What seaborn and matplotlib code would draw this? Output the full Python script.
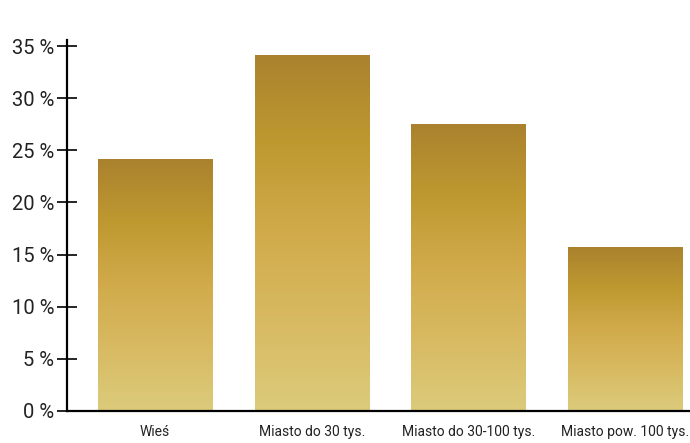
import matplotlib
matplotlib.use("Agg")
import matplotlib.pyplot as plt
from matplotlib.colors import LinearSegmentedColormap
import seaborn as sns
import numpy as np
import pandas as pd

categories = ["Wieś", "Miasto do 30 tys.", "Miasto do 30-100 tys.", "Miasto pow. 100 tys."]
values = [24.1, 34.1, 27.5, 15.7]
yticks = [0, 5, 10, 15, 20, 25, 30, 35]
ytick_labels = ["0 %", "5 %", "10 %", "15 %", "20 %", "25 %", "30 %", "35 %"]

sns.set_theme(style="white")
plt.rcParams['font.family'] = ['Roboto', 'DejaVu Sans']

df = pd.DataFrame({"cat": categories, "val": values})

fig = plt.figure(figsize=(6.9, 4.43), dpi=100)
ax = fig.add_axes([67/690, 1 - 411/443, 1 - 67/690, (411 - 40)/443])

sns.barplot(data=df, x="cat", y="val", ax=ax, color="#C9A33E", width=0.73,
            saturation=1, edgecolor="none")

cmap = LinearSegmentedColormap.from_list(
    "gold", ["#DBCB7B", "#D8BA62", "#D1AB4B", "#BE9930", "#AA822E"])
grad = np.linspace(0, 1, 256).reshape(-1, 1)
for p in ax.patches:
    x0, w, h = p.get_x(), p.get_width(), p.get_height()
    ax.imshow(grad, extent=(x0, x0 + w, 0, h), origin="lower", cmap=cmap,
              aspect="auto", zorder=p.get_zorder() + 0.1, interpolation="bilinear")
    p.set_alpha(0)

ax.set_xlim(-0.562, 3.415)
ax.set_ylim(0, 35.58)
ax.set_yticks(yticks)
ax.set_yticklabels(ytick_labels)
ax.set_xlabel("")
ax.set_ylabel("")

for s in ["top", "right"]:
    ax.spines[s].set_visible(False)
for s in ["left", "bottom"]:
    ax.spines[s].set_color("black")
    ax.spines[s].set_linewidth(1.6)
    ax.spines[s].set_zorder(5)

ax.tick_params(axis="y", left=True, direction="inout", length=14.4, width=1.2,
               color="black", labelsize=14.5, pad=2, labelcolor="#222222")
ax.tick_params(axis="x", bottom=False, length=0, labelsize=10, pad=10,
               labelcolor="#222222")

fig.savefig("out.png", dpi=100)
